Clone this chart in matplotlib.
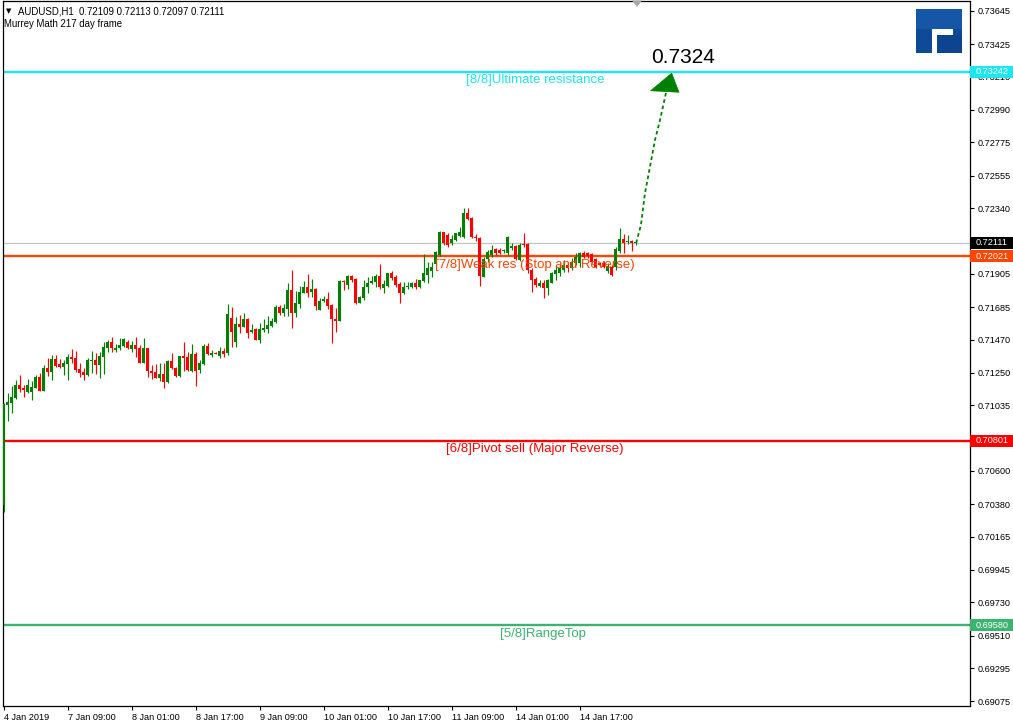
import matplotlib
matplotlib.use("Agg")
import matplotlib.pyplot as plt
import matplotlib.transforms as mtransforms
from matplotlib.patches import Polygon, Rectangle
import numpy as np

# ---------------- data ----------------
symbol_text = "AUDUSD,H1  0.72109 0.72113 0.72097 0.72111"
indicator_text = "Murrey Math 217 day frame"

opens = [0.70375, 0.71037, 0.71050, 0.71083, 0.71169, 0.71149, 0.71123, 0.71123, 0.71149, 0.71222,
         0.71129, 0.71282, 0.71255, 0.71341, 0.71308, 0.71288, 0.71308, 0.71354, 0.71348, 0.71275,
         0.71255, 0.71235, 0.71328, 0.71335, 0.71301, 0.71354, 0.71414, 0.71454, 0.71401, 0.71414,
         0.71427, 0.71454, 0.71407, 0.71434, 0.71414, 0.71315, 0.71414, 0.71262, 0.71255, 0.71215,
         0.71242, 0.71189, 0.71328, 0.71282, 0.71229, 0.71361, 0.71354, 0.71262, 0.71374, 0.71268,
         0.71308, 0.71427, 0.71368, 0.71381, 0.71361, 0.71394, 0.71381, 0.71613, 0.71454, 0.71573,
         0.71553, 0.71606, 0.71520, 0.71540, 0.71467, 0.71533, 0.71540, 0.71560, 0.71586, 0.71685,
         0.71646, 0.71672, 0.71798, 0.71646, 0.71705, 0.71778, 0.71818, 0.71785, 0.71805, 0.71666,
         0.71725, 0.71738, 0.71699, 0.71606, 0.71593, 0.71858, 0.71831, 0.71890, 0.71871, 0.71712,
         0.71745, 0.71818, 0.71844, 0.71851, 0.71890, 0.71811, 0.71824, 0.71910, 0.71884, 0.71838,
         0.71778, 0.71818, 0.71818, 0.71844, 0.71818, 0.71858, 0.71897, 0.71924, 0.71970, 0.72030,
         0.72182, 0.72162, 0.72109, 0.72129, 0.72155, 0.72149, 0.72308, 0.72275, 0.72149, 0.72142,
         0.71884, 0.72003, 0.72030, 0.72069, 0.72063, 0.72056, 0.72043, 0.72076, 0.72089, 0.71997,
         0.72102, 0.72102, 0.71930, 0.71871, 0.71824, 0.71844, 0.71811, 0.71844, 0.71904, 0.71910,
         0.71930, 0.71963, 0.71943, 0.71977, 0.71977, 0.72043, 0.72043, 0.72036, 0.72003, 0.71977,
         0.71977, 0.71924, 0.71950, 0.71950, 0.72056, 0.72136, 0.72114, 0.72122, 0.72109]
highs = [0.71050, 0.71116, 0.71162, 0.71202, 0.71235, 0.71169, 0.71209, 0.71196, 0.71235, 0.71248,
         0.71301, 0.71348, 0.71368, 0.71368, 0.71341, 0.71335, 0.71374, 0.71407, 0.71394, 0.71315,
         0.71282, 0.71348, 0.71394, 0.71381, 0.71387, 0.71454, 0.71467, 0.71487, 0.71440, 0.71480,
         0.71480, 0.71467, 0.71460, 0.71487, 0.71434, 0.71480, 0.71414, 0.71301, 0.71308, 0.71315,
         0.71315, 0.71335, 0.71381, 0.71288, 0.71361, 0.71454, 0.71387, 0.71440, 0.71387, 0.71335,
         0.71440, 0.71447, 0.71401, 0.71387, 0.71421, 0.71414, 0.71705, 0.71685, 0.71619, 0.71632,
         0.71646, 0.71613, 0.71573, 0.71546, 0.71579, 0.71606, 0.71626, 0.71613, 0.71699, 0.71699,
         0.71705, 0.71844, 0.71930, 0.71791, 0.71824, 0.71858, 0.71904, 0.71871, 0.71811, 0.71745,
         0.71758, 0.71785, 0.71705, 0.71679, 0.71864, 0.71864, 0.71897, 0.71897, 0.71877, 0.71758,
         0.71864, 0.71884, 0.71890, 0.71904, 0.71970, 0.71864, 0.71910, 0.71924, 0.71897, 0.71851,
         0.71851, 0.71851, 0.71851, 0.71871, 0.71864, 0.72036, 0.71983, 0.71983, 0.72056, 0.72189,
         0.72182, 0.72175, 0.72162, 0.72175, 0.72215, 0.72341, 0.72341, 0.72281, 0.72169, 0.72149,
         0.72016, 0.72063, 0.72096, 0.72076, 0.72076, 0.72069, 0.72155, 0.72109, 0.72096, 0.72109,
         0.72175, 0.72109, 0.71943, 0.71884, 0.71864, 0.71864, 0.71871, 0.71917, 0.71957, 0.71977,
         0.71997, 0.71983, 0.72010, 0.72043, 0.72049, 0.72056, 0.72049, 0.72043, 0.72010, 0.71983,
         0.71990, 0.71977, 0.71963, 0.72083, 0.72208, 0.72169, 0.72162, 0.72129, 0.72113]
lows = [0.70328, 0.70931, 0.70984, 0.71076, 0.71123, 0.71090, 0.71116, 0.71070, 0.71149, 0.71129,
        0.71129, 0.71229, 0.71202, 0.71288, 0.71282, 0.71235, 0.71202, 0.71315, 0.71255, 0.71222,
        0.71202, 0.71229, 0.71248, 0.71242, 0.71215, 0.71242, 0.71387, 0.71387, 0.71387, 0.71401,
        0.71421, 0.71407, 0.71387, 0.71354, 0.71315, 0.71315, 0.71222, 0.71209, 0.71215, 0.71196,
        0.71149, 0.71182, 0.71275, 0.71222, 0.71222, 0.71262, 0.71262, 0.71255, 0.71162, 0.71248,
        0.71301, 0.71368, 0.71354, 0.71374, 0.71348, 0.71354, 0.71368, 0.71421, 0.71421, 0.71513,
        0.71553, 0.71480, 0.71513, 0.71467, 0.71447, 0.71520, 0.71513, 0.71553, 0.71579, 0.71632,
        0.71626, 0.71626, 0.71546, 0.71619, 0.71679, 0.71778, 0.71752, 0.71752, 0.71666, 0.71666,
        0.71719, 0.71672, 0.71447, 0.71520, 0.71593, 0.71798, 0.71805, 0.71851, 0.71705, 0.71712,
        0.71732, 0.71778, 0.71838, 0.71818, 0.71805, 0.71778, 0.71818, 0.71864, 0.71818, 0.71712,
        0.71771, 0.71805, 0.71811, 0.71805, 0.71811, 0.71851, 0.71844, 0.71884, 0.71957, 0.72023,
        0.72096, 0.72083, 0.72096, 0.72122, 0.72149, 0.72142, 0.72261, 0.72142, 0.72122, 0.71824,
        0.71884, 0.71983, 0.72016, 0.72030, 0.72036, 0.72043, 0.72030, 0.72063, 0.71997, 0.71990,
        0.72083, 0.71910, 0.71785, 0.71818, 0.71818, 0.71745, 0.71765, 0.71844, 0.71864, 0.71890,
        0.71917, 0.71917, 0.71930, 0.71963, 0.71950, 0.72010, 0.72010, 0.71977, 0.71943, 0.71957,
        0.71943, 0.71910, 0.71890, 0.71930, 0.72043, 0.72043, 0.72102, 0.72056, 0.72097]
closes = [0.71043, 0.71057, 0.71090, 0.71169, 0.71143, 0.71136, 0.71169, 0.71156, 0.71222, 0.71129,
          0.71282, 0.71255, 0.71341, 0.71295, 0.71288, 0.71315, 0.71354, 0.71341, 0.71268, 0.71248,
          0.71235, 0.71335, 0.71335, 0.71301, 0.71361, 0.71421, 0.71454, 0.71414, 0.71414, 0.71434,
          0.71474, 0.71414, 0.71434, 0.71407, 0.71315, 0.71414, 0.71262, 0.71248, 0.71215, 0.71242,
          0.71189, 0.71328, 0.71282, 0.71229, 0.71361, 0.71348, 0.71268, 0.71374, 0.71262, 0.71315,
          0.71427, 0.71374, 0.71381, 0.71374, 0.71394, 0.71374, 0.71639, 0.71520, 0.71573, 0.71553,
          0.71606, 0.71513, 0.71533, 0.71467, 0.71540, 0.71546, 0.71566, 0.71593, 0.71685, 0.71646,
          0.71679, 0.71798, 0.71646, 0.71712, 0.71785, 0.71818, 0.71778, 0.71805, 0.71692, 0.71725,
          0.71738, 0.71692, 0.71606, 0.71593, 0.71858, 0.71851, 0.71890, 0.71864, 0.71712, 0.71752,
          0.71818, 0.71844, 0.71858, 0.71890, 0.71818, 0.71838, 0.71910, 0.71877, 0.71831, 0.71778,
          0.71818, 0.71824, 0.71844, 0.71818, 0.71864, 0.71910, 0.71943, 0.71950, 0.72049, 0.72182,
          0.72109, 0.72096, 0.72136, 0.72175, 0.72182, 0.72308, 0.72268, 0.72149, 0.72142, 0.71890,
          0.72003, 0.72049, 0.72063, 0.72043, 0.72043, 0.72063, 0.72149, 0.72089, 0.72003, 0.72096,
          0.72096, 0.71930, 0.71864, 0.71831, 0.71844, 0.71811, 0.71864, 0.71910, 0.71930, 0.71943,
          0.71963, 0.71943, 0.71983, 0.72016, 0.72043, 0.72016, 0.72023, 0.71983, 0.71950, 0.71963,
          0.71950, 0.71957, 0.71897, 0.72069, 0.72136, 0.72109, 0.72118, 0.72109, 0.72111]

x_tick_bars = [0, 16, 32, 48, 64, 80, 96, 112, 128, 144]
x_tick_labels = ["4 Jan 2019", "7 Jan 09:00", "8 Jan 01:00", "8 Jan 17:00", "9 Jan 09:00",
                 "10 Jan 01:00", "10 Jan 17:00", "11 Jan 09:00", "14 Jan 01:00", "14 Jan 17:00"]
y_tick_values = [0.73645, 0.73425, 0.73210, 0.72990, 0.72775, 0.72555, 0.72340, 0.72125,
                 0.71905, 0.71685, 0.71470, 0.71250, 0.71035, 0.70815, 0.70600, 0.70380,
                 0.70165, 0.69945, 0.69730, 0.69510, 0.69295, 0.69075]
# tick labels that the price boxes hide completely in the reference
y_tick_hidden = [0.72125, 0.70815]

level_values = [0.73242, 0.72021, 0.70801, 0.69580]
level_names = ["[8/8]Ultimate resistance", "[7/8]Weak res (Stop and Reverse)",
               "[6/8]Pivot sell (Major Reverse)", "[5/8]RangeTop"]
level_colors = ["#1EE6EE", "#FF4500", "#FF0000", "#3CB371"]
level_label_xfrac = [0.5507, 0.5507, 0.5507, 0.5585]

current_price = 0.72111
target_text = "0.7324"
target_bar, target_price = 169.8, 0.73334

forecast_bars = [158.1, 159.3, 160.3, 161.55, 162.8, 164.05, 165.7]
forecast_prices = [0.72109, 0.72230, 0.72440, 0.72614, 0.72791, 0.72923, 0.73122]
arrow_bars = [166.97, 161.7, 168.8]
arrow_prices = [0.73233, 0.73117, 0.73107]

# ---------------- figure ----------------
W, H = 1013, 722
fig = plt.figure(figsize=(W / 100, H / 100), dpi=100)
fig.patch.set_facecolor("white")
FONT = ["Liberation Sans", "DejaVu Sans"]
plt.rcParams["font.family"] = FONT

ax_l, ax_r, ax_t, ax_b = 2.5, 969.5, 1.0, 706.0
ax = fig.add_axes([ax_l / W, 1 - ax_b / H, (ax_r - ax_l) / W, (ax_b - ax_t) / H])
ax.set_facecolor("white")

bar0_px = 3.8
px_per_bar = 4.0
ax.set_xlim(-(bar0_px - ax_l) / px_per_bar, (ax_r - bar0_px) / px_per_bar)
ax.set_ylim(0.69044, 0.73711)

# current price line
ax.axhline(current_price, color="#C0C0C0", lw=0.8, zorder=1)

# level lines
for val, col in zip(level_values, level_colors):
    ax.axhline(val, color=col, lw=1.7, zorder=2)

# candles
o = np.array(opens); c = np.array(closes); h = np.array(highs); l = np.array(lows)
xs = np.arange(len(o))
cols = np.where(c >= o, "#008000", "#FF0000")
ax.vlines(xs, l, h, colors=cols, lw=0.85, zorder=3)
ax.bar(xs, np.maximum(np.abs(c - o), 0.00006), bottom=np.minimum(o, c), width=0.78,
       color=cols, linewidth=0, zorder=4)

# level labels
trans = mtransforms.blended_transform_factory(ax.transAxes, ax.transData)
for val, name, col, xf in zip(level_values, level_names, level_colors, level_label_xfrac):
    ax.annotate(name, xy=(xf, val), xycoords=trans, xytext=(0, -1.8), textcoords="offset points",
                ha="center", va="top", color=col, fontsize=9.5, zorder=6)

# forecast
ax.plot(forecast_bars, forecast_prices, color="#008000", lw=1.3, ls=(0, (2.0, 1.6)), zorder=5)
ax.add_patch(Polygon(np.column_stack([arrow_bars, arrow_prices]), closed=True,
                     fc="#008000", ec="#008000", lw=0.5, zorder=6))
ax.text(target_bar, target_price, target_text, ha="center", va="center", fontsize=15,
        color="black", zorder=6)

# axes styling
for sp in ax.spines.values():
    sp.set_color("black"); sp.set_linewidth(0.9)
ax.yaxis.tick_right()
ax.set_yticks(y_tick_values)
ax.set_yticklabels(["" if v in y_tick_hidden else f"{v:.5f}" for v in y_tick_values])
ax.tick_params(axis="y", direction="out", length=3, width=0.8, pad=3, labelsize=6.6, colors="black")
ax.set_xticks(x_tick_bars)
ax.set_xticklabels(x_tick_labels)
ax.tick_params(axis="x", direction="out", length=3, width=0.8, pad=2, labelsize=6.6, colors="black")
for lbl in ax.get_xticklabels():
    lbl.set_ha("left")

# right-side price boxes
ypp = (0.73711 - 0.69044) / (ax_b - ax_t)  # price per pixel
box_w = 43.0 / (ax_r - ax_l)
box_specs = [(level_values[0], level_colors[0]), (current_price, "black"),
             (level_values[1], level_colors[1]), (level_values[2], level_colors[2]),
             (level_values[3], level_colors[3])]
for val, col in box_specs:
    ax.add_patch(Rectangle((1.0, val - 6 * ypp), box_w, 12 * ypp, transform=trans,
                           fc=col, ec="none", clip_on=False, zorder=8))
    ax.annotate(f"{val:.5f}", xy=(1.0, val), xycoords=trans, xytext=(4.4, 0),
                textcoords="offset points", ha="left", va="center", color="white",
                fontsize=6.6, zorder=9, annotation_clip=False)

# header
fig.text(6 / W, 1 - 11 / H, "▼", fontsize=5, ha="left", va="center", family=["DejaVu Sans"])
fig.text(18 / W, 1 - 11 / H, symbol_text, fontsize=6.9, ha="left", va="center")
fig.text(4 / W, 1 - 24 / H, indicator_text, fontsize=6.9, ha="left", va="center")

# top marker
fig.patches.append(Polygon([(632 / W, 1 - 0.5 / H), (642 / W, 1 - 0.5 / H), (637 / W, 1 - 7 / H)],
                           closed=True, transform=fig.transFigure, fc="#A8A8A8", ec="none"))

# logo (stylised "R")
def fig_rect(x0, y0, x1, y1, col):
    fig.patches.append(Rectangle((x0 / W, 1 - y1 / H), (x1 - x0) / W, (y1 - y0) / H,
                                 transform=fig.transFigure, fc=col, ec="none"))
fig_rect(916, 9, 962, 29, "#1556A6")     # top block
fig_rect(916, 29, 932, 53, "#0E4A96")    # left column
fig_rect(953, 29, 962, 35, "#0E4A96")    # right joint
fig_rect(937, 35, 962, 53, "#0C4490")    # lower right block

fig.savefig("out.png", dpi=100, facecolor="white")
